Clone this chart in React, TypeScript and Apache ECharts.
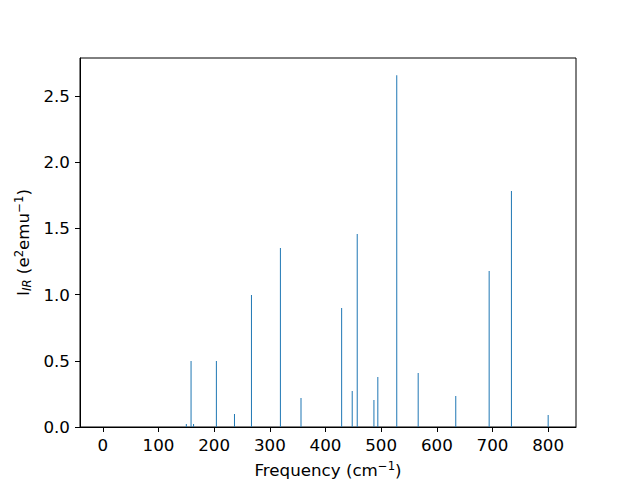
import React, { useEffect, useRef } from "react";
import * as echarts from "echarts";

const frequencies = [150, 158.5, 163, 204, 236.5, 267, 319, 356, 429, 448, 457, 487, 494, 528, 566.5, 634, 694, 734, 800];
const intensities = [0.023, 0.498, 0.023, 0.498, 0.098, 0.997, 1.352, 0.219, 0.899, 0.272, 1.458, 0.204, 0.378, 2.655, 0.408, 0.234, 1.178, 1.782, 0.091];
const xTicks = [0, 100, 200, 300, 400, 500, 600, 700, 800];
const yTicks = [0, 0.5, 1.0, 1.5, 2.0, 2.5];

export default function App() {
  const ref = useRef<HTMLDivElement>(null);
  useEffect(() => {
    const chart = echarts.init(ref.current!, null, { renderer: "svg" });
    const font = "DejaVu Sans";
    const fs = 16.7;
    const ss = 11.7;
    chart.setOption({
      animation: false,
      grid: {
        left: 80, top: 58, right: 64, bottom: 53,
        containLabel: false, outerBoundsMode: "none",
        show: true, borderColor: "#000", borderWidth: 1, backgroundColor: "transparent",
      },
      xAxis: {
        type: "value", min: -41, max: 850,
        splitLine: { show: false },
        axisLine: { show: true, onZero: false, lineStyle: { color: "#000" } },
        axisTick: { show: true, length: 5, lineStyle: { color: "#000" }, customValues: xTicks },
        axisLabel: { color: "#000", fontSize: fs, fontFamily: font, margin: 9, customValues: xTicks },
        name: "{n|Frequency (cm}{s|−1}{n|)}",
        nameLocation: "middle", nameGap: 33,
        nameTextStyle: {
          rich: {
            n: { fontSize: fs, fontFamily: font, color: "#000" },
            s: { fontSize: ss, fontFamily: font, color: "#000", padding: [0, 0, 8, 0] },
          },
        },
      },
      yAxis: {
        type: "value", min: 0, max: 2.786,
        splitLine: { show: false },
        axisLine: { show: true, onZero: false, lineStyle: { color: "#000" } },
        axisTick: { show: true, length: 5, lineStyle: { color: "#000" }, customValues: yTicks },
        axisLabel: {
          color: "#000", fontSize: fs, fontFamily: font, margin: 10, customValues: yTicks,
          formatter: (v: number) => v.toFixed(1),
        },
        name: "{n|I}{b|IR}{n| (e}{s|2}{n|emu}{s|−1}{n|)}",
        nameLocation: "middle", nameGap: 46,
        nameTextStyle: {
          rich: {
            n: { fontSize: fs, fontFamily: font, color: "#000" },
            b: { fontSize: ss, fontFamily: font, color: "#000", fontStyle: "italic", padding: [8, 0, 0, 0] },
            s: { fontSize: ss, fontFamily: font, color: "#000", padding: [0, 0, 8, 0] },
          },
        },
      },
      series: [
        {
          type: "bar",
          data: frequencies.map((f, i) => [f, intensities[i]]),
          barWidth: 1,
          itemStyle: { color: "#1f77b4" },
        },
      ],
    });
    return () => chart.dispose();
  }, []);
  return <div ref={ref} style={{ width: 640, height: 480, position: "absolute", left: 0, top: 0 }} />;
}
